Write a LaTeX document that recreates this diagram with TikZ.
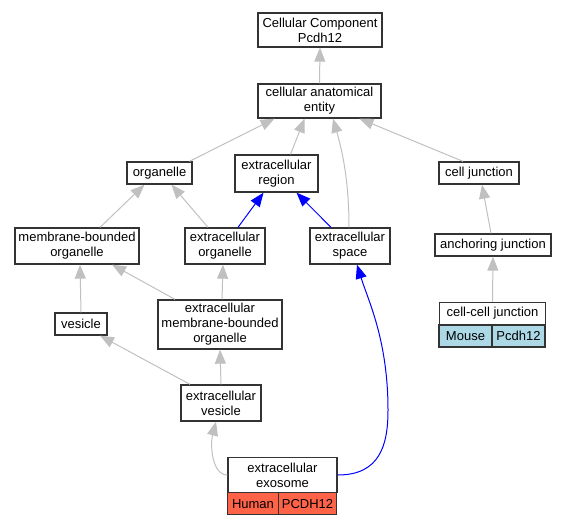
\documentclass[tikz,border=0pt]{standalone}
\usepackage{fontspec}
\setmainfont{Liberation Sans}
\usetikzlibrary{arrows.meta}
\definecolor{edgegray}{HTML}{C0C0C0}
\definecolor{humanred}{HTML}{FF6347}
\definecolor{mouseblue}{HTML}{ADD8E6}
\begin{document}
\begin{tikzpicture}[x=1pt,y=-1pt,
  box/.style={draw=black!80, line width=1.3pt, fill=white, inner sep=0pt, align=center,
    font=\fontsize{13}{15}\selectfont},
  isa/.style={draw=edgegray, line width=1pt, -{Triangle[length=14pt,width=11pt]}},
  partof/.style={draw=blue, line width=1pt, -{Triangle[length=14pt,width=11pt]}}]
\useasboundingbox (0,0) rectangle (567,525);
\node[box, minimum width=124pt, minimum height=34pt] (ccp) at (320,30) {Cellular Component\\Pcdh12};
\node[box, minimum width=123pt, minimum height=34pt] (cae) at (319.5,101) {cellular anatomical\\entity};
\node[box, minimum width=65pt, minimum height=22pt] (org) at (159.5,173) {organelle};
\node[box, minimum width=83pt, minimum height=37pt] (exreg) at (276.5,173.5) {extracellular\\region};
\node[box, minimum width=80pt, minimum height=22pt] (cj) at (479,173) {cell junction};
\node[box, minimum width=124pt, minimum height=36pt] (mbo) at (77,246) {membrane-bounded\\organelle};
\node[box, minimum width=80pt, minimum height=36pt] (exorg) at (225,246) {extracellular\\organelle};
\node[box, minimum width=80pt, minimum height=36pt] (exsp) at (350,246) {extracellular\\space};
\node[box, minimum width=116pt, minimum height=22pt] (anch) at (493,245) {anchoring junction};
\node[box, minimum width=52pt, minimum height=22pt] (ves) at (81,324) {vesicle};
\node[box, minimum width=124pt, minimum height=49pt] (embo) at (220,324.5) {extracellular\\membrane-bounded\\organelle};
\node[box, minimum width=80pt, minimum height=36pt] (exves) at (221,403) {extracellular\\vesicle};
% cell-cell junction record
\node[box, minimum width=106pt, minimum height=22.5pt] (ccj) at (492.5,313.5) {cell-cell junction};
\node[box, fill=mouseblue, minimum width=53pt, minimum height=22pt] (mouse) at (465.5,336) {Mouse};
\node[box, fill=mouseblue, minimum width=53pt, minimum height=22pt] (pcdhm) at (518.5,336) {Pcdh12};
% extracellular exosome record
\node[box, minimum width=109pt, minimum height=35.5pt] (exo) at (282.5,475) {extracellular\\exosome};
\node[box, fill=humanred, minimum width=50.5pt, minimum height=22pt] (human) at (253,503.7) {Human};
\node[box, fill=humanred, minimum width=58.5pt, minimum height=22pt] (pcdhh) at (307.5,503.7) {PCDH12};
% edges
\draw[isa] (cae.north) -- (ccp.south);
\draw[isa] ([xshift=30]org.north) -- ([xshift=-45]cae.south);
\draw[isa] ([xshift=14]exreg.north) -- ([xshift=-15]cae.south);
\draw[isa] ([xshift=-1]exsp.north) .. controls (349,180) and (342,150) .. ([xshift=13.5]cae.south);
\draw[isa] ([xshift=-16]cj.north) -- ([xshift=40]cae.south);
\draw[isa] ([xshift=23]mbo.north) -- ([xshift=-15]org.south);
\draw[isa] ([xshift=-17]exorg.north) -- ([xshift=12]org.south);
\draw[partof] ([xshift=13]exorg.north) -- ([xshift=-13]exreg.south);
\draw[partof] ([xshift=-19]exsp.north) -- ([xshift=20]exreg.south);
\draw[isa] ([xshift=-2]anch.north) -- ([xshift=3]cj.south);
\draw[isa] (ccj.north) -- (anch.south);
\draw[isa] (ves.north) -- ([xshift=3]mbo.south);
\draw[isa] ([xshift=-45]embo.north) -- ([xshift=35]mbo.south);
\draw[isa] ([xshift=2]embo.north) -- ([xshift=-2]exorg.south);
\draw[isa] ([xshift=-31]exves.north) -- ([xshift=19]ves.south);
\draw[isa] (exves.north) -- (embo.south);
\draw[isa] (exo.west) .. controls (212,475) and (210,445) .. ([xshift=-5]exves.south);
\draw[partof] (exo.east) .. controls (380,475) and (388,445) .. (388,410)
  .. controls (388,340) and (368,300) .. ([xshift=7]exsp.south);
\end{tikzpicture}
\end{document}
